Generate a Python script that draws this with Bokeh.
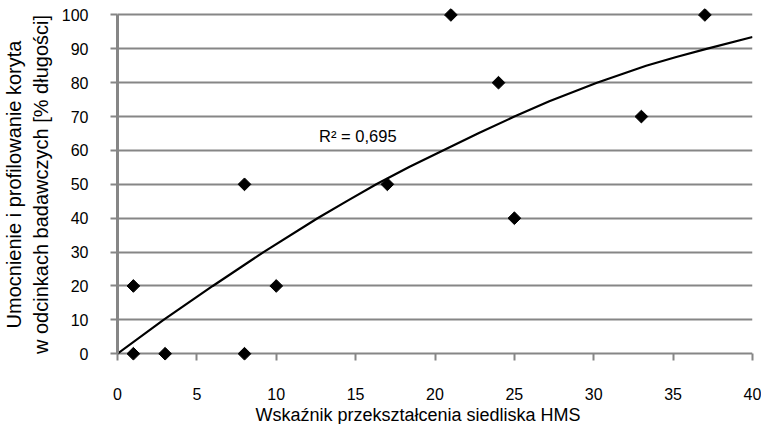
from bokeh.plotting import figure
from bokeh.models import Range1d, FixedTicker, Label, Title
from bokeh.embed import file_html
from bokeh.resources import INLINE
import numpy as np

# ---- data ----
hms = [1, 1, 3, 8, 8, 10, 17, 21, 24, 25, 33, 37]
umoc = [0, 20, 0, 0, 50, 20, 50, 100, 80, 40, 70, 100]

# trend line
trend_x = [0, 2.9, 6.0, 9.2, 12.6, 14.5, 16.3, 18.4, 20.5, 22.8, 25.0,
           27.2, 30.2, 33.3, 35.2, 37.1, 40]
trend_y = [0, 10, 20, 30, 40, 45.2, 50, 55.2, 60, 65.2, 70.0,
           74.5, 80, 85, 87.6, 90, 93.5]

x_ticks = [0, 5, 10, 15, 20, 25, 30, 35, 40]
y_ticks = [0, 10, 20, 30, 40, 50, 60, 70, 80, 90, 100]

r2_text = "R² = 0,695"
x_title = "Wskaźnik przekształcenia siedliska HMS"
y_title = "Umocnienie i profilowanie koryta\nw odcinkach badawczych [% długości]"

FONT = "Liberation Sans"
GRAY = "#868686"

p = figure(frame_width=635, frame_height=352,
           x_range=Range1d(0, 40), y_range=Range1d(-2, 101.9),
           output_backend="svg", toolbar_location=None,
           min_border_left=109, min_border_right=9,
           min_border_top=8, min_border_bottom=0)
p.outline_line_color = None
p.background_fill_color = "white"
p.border_fill_color = "white"

p.xgrid.visible = False
p.ygrid.ticker = FixedTicker(ticks=y_ticks)
p.ygrid.grid_line_color = GRAY
p.ygrid.grid_line_width = 2

xa = p.xaxis[0]
xa.ticker = FixedTicker(ticks=x_ticks)
xa.axis_line_color = None
xa.major_tick_in = 7
xa.major_tick_out = 0
xa.major_tick_line_color = GRAY
xa.major_tick_line_width = 2
xa.minor_tick_line_color = None
xa.major_label_standoff = 27
xa.major_label_text_font = FONT
xa.major_label_text_font_size = "16px"
xa.major_label_text_color = "black"

ya = p.yaxis[0]
ya.ticker = FixedTicker(ticks=y_ticks)
ya.bounds = (0, 100)
ya.axis_line_color = GRAY
ya.axis_line_width = 3
ya.major_tick_in = 0
ya.major_tick_out = 7
ya.major_tick_line_color = GRAY
ya.major_tick_line_width = 2
ya.minor_tick_line_color = None
ya.major_label_standoff = 22
ya.major_label_text_font = FONT
ya.major_label_text_font_size = "16px"
ya.major_label_text_color = "black"
ya.axis_label = y_title
ya.axis_label_standoff = 7
ya.axis_label_text_font = FONT
ya.axis_label_text_font_size = "20px"
ya.axis_label_text_font_style = "normal"
ya.axis_label_text_color = "black"

p.line(trend_x, trend_y, line_color="black", line_width=2.2)
p.scatter(hms, umoc, marker="square", size=9, angle=np.pi / 4,
          fill_color="black", line_color="black")

p.add_layout(Label(x=12.7, y=64.2, text=r2_text, text_font=FONT,
                   text_font_size="16.5px", text_color="black",
                   text_align="left", text_baseline="middle"))

# x-axis title, placed where the reference has it
p.add_layout(Title(text=x_title, align="left", offset=138, standoff=0,
                   text_font=FONT, text_font_size="18px",
                   text_font_style="normal", text_color="black"), "below")

open("out.html", "w").write(file_html(p, INLINE))
